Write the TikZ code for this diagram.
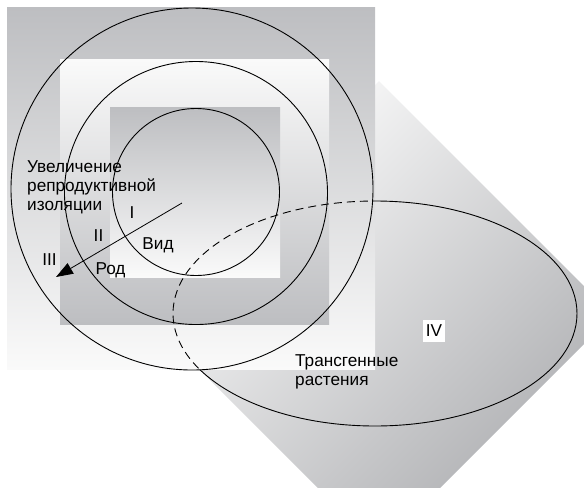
\documentclass[tikz,border=0pt]{standalone}
\usepackage{fontspec}
\setmainfont{Liberation Sans}
\usetikzlibrary{shapes,arrows.meta,positioning}
\definecolor{sqgray}{RGB}{189,190,193}
\definecolor{sqlight}{RGB}{250,250,250}
\definecolor{diagray}{RGB}{172,173,176}

\begin{document}
\begin{tikzpicture}[x=1pt, y=-1pt,
    lab/.style={inner sep=0pt, font=\fontsize{17.2}{19}\selectfont},
    ring/.style={draw, circle, line width=0.9pt, inner sep=0pt, outer sep=0pt}]
    \useasboundingbox (0,0) rectangle (584,491);
    \begin{scope}
        \clip (0,0) rectangle (584,487);
        \shade[top color=white, bottom color=diagray, shading angle=45]
            (379,81) -- (613,315) -- (379,549) -- (145,315) -- cycle;
    \end{scope}
    \shade[top color=sqgray, bottom color=sqlight] (7,7) rectangle (375,369);
    \shade[top color=sqlight, bottom color=sqgray] (60,59) rectangle (329,324);
    \shade[top color=sqgray, bottom color=sqlight] (110,107) rectangle (280,277);

    \foreach \r/\x/\y/\n in {181/192/189/3, 131.5/196/193/2, 83.5/196/192/1} {
        \node[ring, minimum size=2*\r pt] (c\n) at (\x,\y) {};
    }

    \begin{scope}
        \clip (192,189) circle (181);
        \draw[line width=0.9pt, dash pattern=on 8pt off 5pt] (375,313.5) ellipse (202 and 112.5);
    \end{scope}
    \begin{scope}[even odd rule]
        \clip (0,0) rectangle (584,491) (192,189) circle (181);
        \draw[line width=0.9pt] (375,313.5) ellipse (202 and 112.5);
    \end{scope}

    \coordinate (from) at (182,203);
    \coordinate (tip) at (56,277);
    \draw[line width=0.8pt, -{Triangle[length=17pt, width=12pt]}] (from) -- (tip);

    \node[lab, anchor=north west, align=left] (incr) at (27,160.8) {Увеличение\\репродуктивной\\изоляции};
    \node[lab, anchor=base] (l1) at (132,218) {I};
    \node[lab, anchor=base] (l2) at (98.5,241) {II};
    \node[lab, anchor=base] (l3) at (49.5,265) {III};
    \node[lab, anchor=base] (vid) at (158,249) {Вид};
    \node[lab, anchor=base] (rod) at (110.5,274) {Род};
    \node[lab, fill=white, minimum width=22pt, minimum height=22pt] (l4) at (434,331) {IV};
    \node[lab, anchor=north west, align=left] (trans) at (295,354.8) {Трансгенные\\растения};
\end{tikzpicture}
\end{document}
